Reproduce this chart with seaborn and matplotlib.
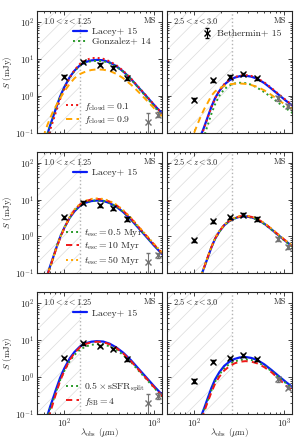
import matplotlib
matplotlib.use("Agg")
import matplotlib.pyplot as plt
import seaborn as sns

# wavelength grids (micron) for the two redshift bins
LAM_LO = [55, 60, 65, 70, 75, 80, 90, 100, 115, 130, 150, 175, 200, 230, 270, 320, 380, 450, 550, 650, 800, 1000, 1250]
LAM_HI = [100, 110, 120, 130, 140, 155, 170, 190, 215, 245, 280, 320, 370, 430, 500, 600, 720, 870, 1050, 1250]

# model SEDs, 1.0 < z < 1.25 (mJy)
LACEY_LO = [0.015, 0.04, 0.09, 0.16, 0.26, 0.42, 0.95, 1.7, 3.2, 4.8, 6.8, 8.3, 9.1, 9.4, 9.2, 8.0, 6.3, 4.6, 2.85, 1.8, 1.02, 0.55, 0.31]
GONZ_LO = [0.015, 0.04, 0.09, 0.15, 0.24, 0.42, 0.95, 1.65, 3.1, 4.7, 6.6, 8.0, 8.7, 8.9, 8.7, 7.6, 6.1, 4.5, 2.8, 1.75, 0.97, 0.5, 0.27]
FCLOUD01_LO = [0.008, 0.025, 0.065, 0.12, 0.2, 0.33, 0.8, 1.5, 3.1, 5.0, 7.4, 9.4, 10.5, 10.7, 10.1, 8.6, 6.7, 4.8, 2.95, 1.85, 1.05, 0.56, 0.31]
FCLOUD09_LO = [0.04, 0.09, 0.16, 0.25, 0.37, 0.5, 0.85, 1.3, 2.1, 3.0, 3.9, 4.6, 5.0, 5.2, 5.1, 4.7, 3.9, 3.0, 2.0, 1.35, 0.8, 0.45, 0.26]
TESC05_LO = [0.015, 0.04, 0.09, 0.15, 0.24, 0.44, 1.0, 1.7, 3.2, 4.9, 6.9, 8.4, 9.2, 9.5, 9.3, 8.1, 6.4, 4.7, 2.9, 1.85, 1.05, 0.56, 0.32]
TESC10_LO = [0.014, 0.04, 0.09, 0.15, 0.25, 0.4, 0.9, 1.65, 3.3, 5.2, 7.4, 9.1, 10.1, 10.4, 10.1, 8.8, 7.0, 5.0, 3.1, 1.95, 1.1, 0.59, 0.33]
TESC50_LO = [0.014, 0.04, 0.09, 0.15, 0.25, 0.41, 0.92, 1.7, 3.4, 5.4, 7.7, 9.4, 10.4, 10.7, 10.4, 9.1, 7.2, 5.2, 3.2, 2.0, 1.13, 0.61, 0.34]
SSFR05_LO = [0.012, 0.035, 0.08, 0.14, 0.22, 0.36, 0.82, 1.45, 2.7, 4.0, 5.6, 6.8, 7.5, 7.8, 7.7, 6.8, 5.5, 4.0, 2.55, 1.6, 0.92, 0.5, 0.28]
FSB4_LO = [0.008, 0.025, 0.06, 0.11, 0.19, 0.32, 0.78, 1.45, 2.9, 4.5, 6.5, 8.0, 8.8, 9.1, 8.9, 7.7, 6.1, 4.4, 2.7, 1.7, 0.96, 0.52, 0.29]

# model SEDs, 2.5 < z < 3.0 (mJy)
LACEY_HI = [0.022, 0.045, 0.09, 0.15, 0.25, 0.5, 0.85, 1.35, 2.0, 2.6, 3.1, 3.4, 3.5, 3.3, 2.9, 2.2, 1.55, 1.05, 0.72, 0.52]
GONZ_HI = [0.008, 0.02, 0.045, 0.085, 0.15, 0.32, 0.58, 1.0, 1.5, 1.9, 2.15, 2.25, 2.2, 2.0, 1.65, 1.25, 0.9, 0.63, 0.45, 0.33]
FCLOUD01_HI = [0.018, 0.04, 0.08, 0.14, 0.24, 0.48, 0.84, 1.37, 2.05, 2.7, 3.2, 3.55, 3.65, 3.45, 3.0, 2.3, 1.62, 1.1, 0.75, 0.54]
FCLOUD09_HI = [0.1, 0.18, 0.3, 0.45, 0.62, 1.0, 1.3, 1.6, 1.85, 2.05, 2.12, 2.15, 2.1, 1.95, 1.75, 1.4, 1.05, 0.75, 0.55, 0.42]
TESC05_HI = [0.022, 0.045, 0.09, 0.15, 0.25, 0.5, 0.84, 1.33, 1.97, 2.57, 3.05, 3.35, 3.45, 3.25, 2.85, 2.15, 1.52, 1.03, 0.7, 0.5]
TESC10_HI = [0.021, 0.044, 0.09, 0.155, 0.26, 0.51, 0.87, 1.38, 2.05, 2.65, 3.15, 3.5, 3.6, 3.4, 2.98, 2.27, 1.6, 1.08, 0.74, 0.53]
TESC50_HI = [0.021, 0.044, 0.09, 0.155, 0.26, 0.52, 0.88, 1.4, 2.07, 2.7, 3.2, 3.55, 3.65, 3.45, 3.02, 2.3, 1.62, 1.1, 0.75, 0.54]
SSFR05_HI = [0.018, 0.04, 0.08, 0.135, 0.22, 0.43, 0.74, 1.17, 1.72, 2.25, 2.65, 2.9, 3.0, 2.9, 2.6, 2.0, 1.45, 0.98, 0.67, 0.48]
FSB4_HI = [0.015, 0.035, 0.07, 0.12, 0.2, 0.38, 0.65, 1.02, 1.5, 1.95, 2.35, 2.6, 2.7, 2.62, 2.35, 1.85, 1.35, 0.88, 0.58, 0.42]

# stacked observations (Bethermin+ 15)
OBS_LAM = [100, 160, 250, 350, 500, 850, 1100]
OBS_LO = [3.3, 8.3, 7.0, 5.8, 3.0, 0.2, 0.31]
OBS_LO_ERR = [0.3, 0.7, 0.6, 0.5, 0.3, 0.15, 0.05]
OBS_HI = [0.78, 2.6, 3.3, 3.9, 3.0, 0.86, 0.52]
OBS_HI_ERR = [0.08, 0.25, 0.3, 0.35, 0.3, 0.12, 0.06]

ZLABELS = [r'$1.0 < z < 1.25$', r'$2.5 < z < 3.0$']
RESTCUT = [150, 265]  # lambda_obs below which the hatched region sits

BLUE = '#0a1cf5'
GREEN = '#2a9a2a'
RED = '#f01818'
ORANGE = '#ffa500'
DOT = (0, (1, 1.6))
DASH = (0, (3.2, 2.2))

sns.set_style('ticks')
plt.rcParams['font.family'] = 'serif'
plt.rcParams['font.serif'] = ['cmr10']
plt.rcParams['mathtext.fontset'] = 'cm'
plt.rcParams['axes.formatter.use_mathtext'] = True
plt.rcParams['axes.unicode_minus'] = False
plt.rcParams['hatch.linewidth'] = 0.5

fig, axes = plt.subplots(3, 2, figsize=(2.99, 4.38), dpi=100, sharex=True, sharey=True)
fig.subplots_adjust(left=0.124, right=0.975, bottom=0.055, top=0.975, wspace=0.044, hspace=0.156)


def curve(ax, lam, vals, color, ls, lw=1.4):
    sns.lineplot(x=lam, y=vals, ax=ax, color=color, linestyle=ls, linewidth=lw,
                 estimator=None, sort=False, legend=False)
    return ax.lines[-1]


rows = [
    [('Gonzalez+ 14', GONZ_LO, GONZ_HI, GREEN, DOT, 'top'),
     (r'$f_{\rm cloud} = 0.1$', FCLOUD01_LO, FCLOUD01_HI, RED, DOT, 'bottom'),
     (r'$f_{\rm cloud} = 0.9$', FCLOUD09_LO, FCLOUD09_HI, ORANGE, DASH, 'bottom')],
    [(r'$t_{\rm esc} = 0.5\ {\rm Myr}$', TESC05_LO, TESC05_HI, GREEN, DOT, 'bottom'),
     (r'$t_{\rm esc} = 10\ {\rm Myr}$', TESC10_LO, TESC10_HI, RED, DASH, 'bottom'),
     (r'$t_{\rm esc} = 50\ {\rm Myr}$', TESC50_LO, TESC50_HI, ORANGE, DOT, 'bottom')],
    [(r'$0.5 \times {\rm sSFR}_{\rm split}$', SSFR05_LO, SSFR05_HI, GREEN, DOT, 'bottom'),
     (r'$f_{\rm SB} = 4$', FSB4_LO, FSB4_HI, RED, DASH, 'bottom')],
]

for r in range(3):
    for c in range(2):
        ax = axes[r, c]
        ax.set_xscale('log')
        ax.set_yscale('log')
        ax.set_xlim(50, 1200)
        ax.set_ylim(0.1, 200)

        ax.axvspan(50, RESTCUT[c], facecolor='none', edgecolor='0.86', hatch='//', linewidth=0, zorder=0)
        ax.axvline(RESTCUT[c], color='0.7', linestyle=':', linewidth=1.0, zorder=1)

        lam = LAM_LO if c == 0 else LAM_HI
        obs = OBS_LO if c == 0 else OBS_HI
        err = OBS_LO_ERR if c == 0 else OBS_HI_ERR

        top_h, top_l, bot_h, bot_l = [], [], [], []
        blue = curve(ax, lam, LACEY_LO if c == 0 else LACEY_HI, BLUE, '-', 1.6)
        top_h.append(blue)
        top_l.append('Lacey+ 15')
        for label, vlo, vhi, col, ls, where in rows[r]:
            h = curve(ax, lam, vlo if c == 0 else vhi, col, ls)
            if where == 'top':
                top_h.append(h)
                top_l.append(label)
            else:
                bot_h.append(h)
                bot_l.append(label)

        eb = ax.errorbar(OBS_LAM[:5], obs[:5], yerr=err[:5], fmt='x', color='black', ms=4, mew=1.0,
                         elinewidth=0.8, capsize=1.5, zorder=5)
        ax.errorbar(OBS_LAM[5:], obs[5:], yerr=err[5:], fmt='x', color='0.45', ms=4, mew=1.0,
                    elinewidth=0.8, capsize=1.5, zorder=5)

        ax.text(0.05, 0.92, ZLABELS[c], transform=ax.transAxes, fontsize=6, va='center', ha='left')
        ax.text(0.96, 0.92, 'MS', transform=ax.transAxes, fontsize=6, va='center', ha='right')

        if c == 0:
            leg = ax.legend(top_h, top_l, loc='upper left', bbox_to_anchor=(0.26, 0.895), frameon=False,
                            fontsize=7, handlelength=1.4, handletextpad=0.5, labelspacing=0.15,
                            borderaxespad=0.0)
            ax.add_artist(leg)
            ax.legend(bot_h, bot_l, loc='lower left', bbox_to_anchor=(0.2, 0.02), frameon=False,
                      fontsize=7, handlelength=1.4, handletextpad=0.5, labelspacing=0.15,
                      borderaxespad=0.0)
            ax.set_ylabel(r'$S$ (mJy)', fontsize=6.5, labelpad=1)
        elif r == 0:
            ax.legend([eb], ['Bethermin+ 15'], loc='upper left', bbox_to_anchor=(0.25, 0.88), frameon=False,
                      fontsize=7, handlelength=1.0, handletextpad=0.5, borderaxespad=0.0)

        if r == 2:
            ax.set_xlabel(r'$\lambda_{\rm obs}$ ($\mu$m)', fontsize=6.5)
            ax.xaxis.set_label_coords(0.5, -0.1)

        ax.tick_params(which='both', direction='in', top=True, right=True, labelsize=6.5, pad=2,
                       width=0.6)
        ax.tick_params(which='major', length=3)
        ax.tick_params(which='minor', length=1.6)
        for s in ax.spines.values():
            s.set_linewidth(0.8)
            s.set_color('0.15')

fig.savefig('out.png', dpi=100)
